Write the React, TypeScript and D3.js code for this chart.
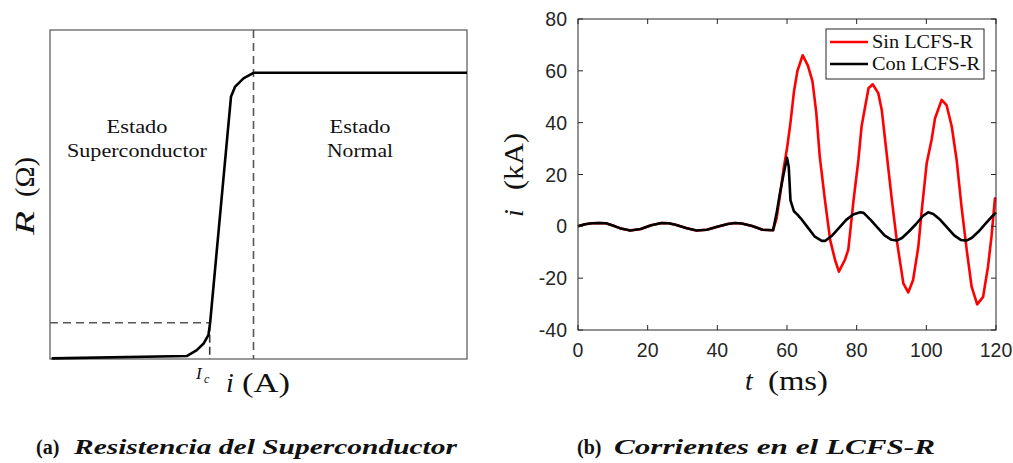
import React from "react";
import * as d3 from "d3";

// ---------- Panel (a): superconductor resistance (normalised units 0..100) ----------
const resI = [0.4, 32.8, 35.2, 36.9, 38.0, 38.4, 43.4, 44.4, 46.4, 48.8, 100];
const resR = [0.2, 0.9, 2.7, 4.8, 7.3, 11.0, 79.7, 82.8, 85.3, 87.0, 87.0];
const icValue = 38.3;
const rcValue = 11.0;
const transitionEnd = 48.8;

// ---------- Panel (b): currents ----------
const preT = [0, 2, 4, 6, 8, 10, 12, 15, 18, 21, 24, 26, 28, 31, 34, 37, 40, 43, 45, 47, 50, 53, 56];
const preV = [0, 0.8, 1.2, 1.3, 1.2, 0.3, -0.7, -1.6, -1.0, 0.4, 1.3, 1.2, 0.6, -0.6, -1.6, -1.3, -0.2, 0.9, 1.3, 1.1, 0.1, -1.3, -1.5];

const sinT = [57, 58, 59, 60, 61, 62, 63, 64.5, 66, 67.3, 68.4, 69.4, 70.9, 72.4, 73.8, 74.9, 76.6, 77.6, 78.1, 79.1, 80.5, 81.4, 83.4, 84.6, 86.2, 87.2, 88.6, 90.1, 91.5, 93.4, 94.8, 96.2, 97.7, 98.6, 100.1, 101.5, 102.5, 104.4, 105.8, 107.3, 108.7, 110.1, 111.6, 113, 114.6, 116.3, 117.7, 118.7, 119.7, 120];
const sinV = [3, 12, 22, 30, 40, 52, 60, 66, 62, 56, 44, 27, 10, -5.3, -13, -17.5, -13, -9, -2.6, 10, 25.6, 38.5, 53.3, 54.8, 51.4, 44.9, 28.2, 10.2, -5.3, -22, -25.5, -20.7, -7.9, 5, 24.3, 33.3, 41.7, 48.8, 46.8, 38.5, 25.6, 7.6, -9.2, -23.3, -30.1, -27.2, -15.6, -4, 10.8, 11];

const conT = [57, 58, 59, 60, 60.5, 61, 62, 63, 64, 66, 68, 70, 71, 73, 75, 77, 79, 81, 82, 84, 86, 88, 90, 91.5, 93, 95, 97, 99, 100.5, 102, 104, 106, 108, 110, 111.5, 113, 115, 117, 119, 120];
const conV = [5, 13, 20, 26.5, 23, 10, 5.8, 4.5, 3, -0.5, -4, -5.6, -5.6, -3.5, -0.5, 2.5, 4.6, 5.4, 5.2, 2.5, -0.5, -3.5, -5.2, -5.5, -4.5, -2, 0.8, 4, 5.4, 4.8, 2.5, -0.5, -3.5, -5.3, -5.5, -4.5, -2, 1, 4, 5.3];

const xTicks = [0, 20, 40, 60, 80, 100, 120];
const yTicks = [-40, -20, 0, 20, 40, 60, 80];
const legendLabels = ["Sin LCFS-R", "Con LCFS-R"];
const legendColors = ["#ff0000", "#000000"];

const serif = "'Liberation Serif', 'Times New Roman', serif";
const sans = "'Liberation Sans', Arial, sans-serif";

export default function App() {
  // panel (a)
  const ax = d3.scaleLinear().domain([0, 100]).range([50, 467]);
  const ay = d3.scaleLinear().domain([0, 100]).range([359, 30]);
  const resData = resI.map((v, k) => [v, resR[k]] as [number, number]);
  const resLine = d3.line<[number, number]>().x((d) => ax(d[0])).y((d) => ay(d[1]));

  // panel (b)
  const bx = d3.scaleLinear().domain([0, 120]).range([578, 996]);
  const by = d3.scaleLinear().domain([-40, 80]).range([330, 19]);
  const line = d3.line<[number, number]>().x((d) => bx(d[0])).y((d) => by(d[1]));
  const pre = preT.map((t, k) => [t, preV[k]] as [number, number]);
  const redData = pre.concat(sinT.map((t, k) => [t, sinV[k]] as [number, number]));
  const blackData = pre.concat(conT.map((t, k) => [t, conV[k]] as [number, number]));

  const axisCol = "#262626";
  const tickLen = 5;

  return (
    <svg width={1013} height={463} style={{ position: "absolute", left: 0, top: 0, background: "#fff" }}>
      <rect x={0} y={0} width={1013} height={463} fill="#fff" />
      {/* ---------------- Panel (a) ---------------- */}
      <rect x={ax(0)} y={ay(100)} width={ax(100) - ax(0)} height={ay(0) - ay(100)} fill="none" stroke="#555" strokeWidth={1.2} />
      <line x1={ax(transitionEnd)} x2={ax(transitionEnd)} y1={ay(100)} y2={ay(0)} stroke="#555" strokeWidth={1.6} strokeDasharray="8,5" />
      <line x1={ax(0)} x2={ax(icValue)} y1={ay(rcValue)} y2={ay(rcValue)} stroke="#555" strokeWidth={1.6} strokeDasharray="8,5" />
      <line x1={ax(icValue)} x2={ax(icValue)} y1={ay(rcValue)} y2={ay(0)} stroke="#333" strokeWidth={1.6} strokeDasharray="8,4" />
      <path d={resLine(resData) || ""} fill="none" stroke="#000" strokeWidth={2.6} strokeLinejoin="round" />
      <g fontFamily={serif} fontSize={19} fill="#111" textAnchor="middle">
        <text x={137} y={133} textLength={61} lengthAdjust="spacingAndGlyphs">Estado</text>
        <text x={137} y={157} textLength={140} lengthAdjust="spacingAndGlyphs">Superconductor</text>
        <text x={360} y={133} textLength={61} lengthAdjust="spacingAndGlyphs">Estado</text>
        <text x={360} y={157} textLength={66} lengthAdjust="spacingAndGlyphs">Normal</text>
      </g>
      <g fontFamily={serif} fill="#111">
        <text x={196} y={379} fontSize={17} fontStyle="italic">I</text>
        <text x={204} y={383} fontSize={12} fontStyle="italic">c</text>
        <text x={226} y={392} fontSize={28} fontStyle="italic">i</text>
        <text x={242} y={392} fontSize={28} textLength={48} lengthAdjust="spacingAndGlyphs">(A)</text>
        <text transform="translate(34,235) rotate(-90)" fontSize={28} fontStyle="italic" x={0} y={0} textLength={24} lengthAdjust="spacingAndGlyphs">R</text>
        <text transform="translate(34,197) rotate(-90)" fontSize={28} x={0} y={0} textLength={40} lengthAdjust="spacingAndGlyphs">(Ω)</text>
      </g>

      {/* ---------------- Panel (b) ---------------- */}
      <path d={line(redData) || ""} fill="none" stroke="#ff0000" strokeWidth={2.6} strokeLinejoin="round" />
      <path d={line(blackData) || ""} fill="none" stroke="#000" strokeWidth={2.6} strokeLinejoin="round" />
      <rect x={bx(0)} y={by(80)} width={bx(120) - bx(0)} height={by(-40) - by(80)} fill="none" stroke={axisCol} strokeWidth={1} />
      {xTicks.map((t) => (
        <g key={"xt" + t}>
          <line x1={bx(t)} x2={bx(t)} y1={by(-40)} y2={by(-40) - tickLen} stroke={axisCol} />
          <line x1={bx(t)} x2={bx(t)} y1={by(80)} y2={by(80) + tickLen} stroke={axisCol} />
          <text x={bx(t)} y={357} textAnchor="middle" fontFamily={sans} fontSize={19.5} fill={axisCol}>{t}</text>
        </g>
      ))}
      {yTicks.map((v) => (
        <g key={"yt" + v}>
          <line x1={bx(0)} x2={bx(0) + tickLen} y1={by(v)} y2={by(v)} stroke={axisCol} />
          <line x1={bx(120)} x2={bx(120) - tickLen} y1={by(v)} y2={by(v)} stroke={axisCol} />
          <text x={567} y={by(v) + 7} textAnchor="end" fontFamily={sans} fontSize={19.5} fill={axisCol}>{v}</text>
        </g>
      ))}
      {/* legend */}
      <rect x={826} y={29} width={158} height={50} fill="#fff" stroke={axisCol} strokeWidth={1} />
      {legendLabels.map((lab, k) => (
        <g key={lab}>
          <line x1={830} x2={868} y1={42 + k * 22} y2={42 + k * 22} stroke={legendColors[k]} strokeWidth={2.6} />
          <text x={872} y={48 + k * 22} fontFamily={serif} fontSize={18} fill="#111" textLength={k === 0 ? 101 : 108} lengthAdjust="spacingAndGlyphs">{lab}</text>
        </g>
      ))}
      <g fontFamily={serif} fill="#111">
        <text x={745} y={390} fontSize={28} fontStyle="italic">t</text>
        <text x={768} y={390} fontSize={28} textLength={60} lengthAdjust="spacingAndGlyphs">(ms)</text>
        <text transform="translate(523,217) rotate(-90)" fontSize={28} fontStyle="italic">i</text>
        <text transform="translate(523,190) rotate(-90)" fontSize={28} textLength={57} lengthAdjust="spacingAndGlyphs">(kA)</text>
      </g>

      {/* captions */}
      <g fontFamily={serif} fontSize={20} fontWeight="bold" fill="#111">
        <text x={36} y={454}>(a)</text>
        <text x={74} y={454} fontStyle="italic" textLength={383} lengthAdjust="spacingAndGlyphs">Resistencia del Superconductor</text>
        <text x={577} y={454}>(b)</text>
        <text x={614} y={454} fontStyle="italic" textLength={321} lengthAdjust="spacingAndGlyphs">Corrientes en el LCFS-R</text>
      </g>
    </svg>
  );
}
